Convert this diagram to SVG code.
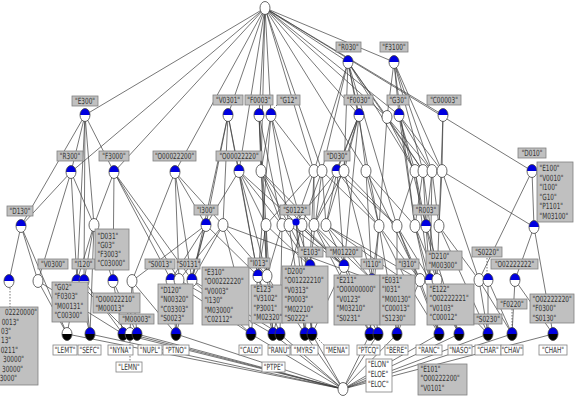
<svg xmlns="http://www.w3.org/2000/svg" width="582" height="402" viewBox="0 0 582 402">
<style>
.nf{fill:#fff;stroke:none}
.no{fill:none;stroke:#444;stroke-width:.8}
.lb{fill:#c0c0c0;stroke:#808080;stroke-width:.8}
.ob{fill:#fff;stroke:#808080;stroke-width:.8}
.t{font-family:"DejaVu Sans",sans-serif;font-size:8.5px;fill:#333}
.c{text-anchor:middle}
.r{text-anchor:end}
.e line{stroke:#3c3c3c;stroke-width:.7}
.d{stroke:#555;stroke-width:.8;stroke-dasharray:1.5,1.5}
</style>
<defs>
<g id="nw"><ellipse rx="5" ry="6.5" class="nf"/><ellipse rx="5" ry="6.5" class="no"/></g>
<g id="nb"><ellipse rx="5" ry="6.5" class="nf"/><path d="M-5,0A5,6.5 0 0 1 5,0Z" fill="#0000e0"/><ellipse rx="5" ry="6.5" class="no"/></g>
<g id="nbk"><path d="M-5,0A5,6.5 0 0 1 5,0Z" fill="#0000e0"/><path d="M-5,0A5,6.5 0 0 0 5,0Z" fill="#000"/><ellipse rx="5" ry="6.5" class="no"/></g>
<g id="nwk"><ellipse rx="5" ry="6.5" class="nf"/><path d="M-5,0A5,6.5 0 0 0 5,0Z" fill="#000"/><ellipse rx="5" ry="6.5" class="no"/></g>
<g id="ns"><circle r="3.6" fill="#0000e0"/></g>
</defs>
<rect width="582" height="402" fill="#fff"/>
<g id="connectors" class="e">
<line x1="265" y1="8" x2="348" y2="62"/><line x1="265" y1="8" x2="394" y2="62"/><line x1="265" y1="8" x2="85" y2="115"/><line x1="265" y1="8" x2="228" y2="115"/><line x1="265" y1="8" x2="259" y2="115"/><line x1="265" y1="8" x2="271" y2="115"/><line x1="265" y1="8" x2="359" y2="115"/><line x1="265" y1="8" x2="387" y2="117"/><line x1="265" y1="8" x2="399" y2="115"/><line x1="265" y1="8" x2="443" y2="115"/><line x1="265" y1="8" x2="71" y2="172"/><line x1="265" y1="8" x2="114" y2="172"/><line x1="265" y1="8" x2="175" y2="172"/><line x1="265" y1="8" x2="239" y2="171"/><line x1="265" y1="8" x2="261" y2="171"/><line x1="265" y1="8" x2="314" y2="171"/><line x1="265" y1="8" x2="322" y2="171"/><line x1="265" y1="8" x2="366" y2="171"/><line x1="265" y1="8" x2="532" y2="171"/>
<line x1="348" y1="62" x2="359" y2="115"/><line x1="348" y1="62" x2="387" y2="117"/><line x1="348" y1="62" x2="314" y2="171"/><line x1="348" y1="62" x2="322" y2="171"/><line x1="348" y1="62" x2="344" y2="171"/><line x1="348" y1="62" x2="415" y2="171"/><line x1="348" y1="62" x2="423" y2="171"/><line x1="348" y1="62" x2="379" y2="226"/><line x1="348" y1="62" x2="397" y2="226"/>
<line x1="394" y1="62" x2="387" y2="117"/><line x1="394" y1="62" x2="399" y2="115"/><line x1="394" y1="62" x2="423" y2="171"/><line x1="394" y1="62" x2="432" y2="171"/><line x1="394" y1="62" x2="442" y2="171"/><line x1="394" y1="62" x2="415" y2="226"/>
<line x1="85" y1="115" x2="71" y2="172"/><line x1="85" y1="115" x2="114" y2="172"/><line x1="85" y1="115" x2="21" y2="226"/><line x1="85" y1="115" x2="94" y2="225"/><line x1="85" y1="115" x2="84" y2="281"/><line x1="85" y1="115" x2="77" y2="281"/>
<line x1="228" y1="115" x2="239" y2="171"/><line x1="228" y1="115" x2="206" y2="225"/><line x1="228" y1="115" x2="223" y2="225"/><line x1="228" y1="115" x2="192" y2="280"/><line x1="228" y1="115" x2="258" y2="276"/>
<line x1="259" y1="115" x2="261" y2="171"/><line x1="259" y1="115" x2="266" y2="225"/><line x1="259" y1="115" x2="282" y2="225"/><line x1="259" y1="115" x2="267" y2="276"/>
<line x1="271" y1="115" x2="261" y2="171"/><line x1="271" y1="115" x2="314" y2="171"/><line x1="271" y1="115" x2="289" y2="225"/><line x1="271" y1="115" x2="302" y2="225"/><line x1="271" y1="115" x2="258" y2="276"/>
<line x1="359" y1="115" x2="337" y2="171"/><line x1="359" y1="115" x2="344" y2="171"/><line x1="359" y1="115" x2="366" y2="171"/><line x1="359" y1="115" x2="314" y2="225"/><line x1="359" y1="115" x2="326" y2="225"/><line x1="359" y1="115" x2="344" y2="266"/>
<line x1="387" y1="117" x2="415" y2="171"/><line x1="387" y1="117" x2="423" y2="171"/><line x1="387" y1="117" x2="432" y2="171"/><line x1="387" y1="117" x2="379" y2="226"/>
<line x1="399" y1="115" x2="415" y2="171"/><line x1="399" y1="115" x2="432" y2="171"/><line x1="399" y1="115" x2="442" y2="171"/><line x1="399" y1="115" x2="415" y2="226"/><line x1="399" y1="115" x2="426" y2="226"/>
<line x1="443" y1="115" x2="442" y2="171"/><line x1="443" y1="115" x2="439" y2="226"/>
<line x1="71" y1="172" x2="21" y2="226"/><line x1="71" y1="172" x2="38" y2="281"/><line x1="71" y1="172" x2="94" y2="225"/><line x1="71" y1="172" x2="77" y2="281"/>
<line x1="114" y1="172" x2="94" y2="225"/><line x1="114" y1="172" x2="113" y2="281"/><line x1="114" y1="172" x2="171" y2="280"/><line x1="114" y1="172" x2="179" y2="280"/><line x1="114" y1="172" x2="192" y2="280"/>
<line x1="175" y1="172" x2="132" y2="281"/><line x1="175" y1="172" x2="223" y2="225"/><line x1="175" y1="172" x2="206" y2="225"/><line x1="175" y1="172" x2="192" y2="280"/><line x1="175" y1="172" x2="179" y2="280"/>
<line x1="239" y1="171" x2="206" y2="225"/><line x1="239" y1="171" x2="266" y2="225"/><line x1="239" y1="171" x2="258" y2="276"/><line x1="239" y1="171" x2="267" y2="276"/><line x1="239" y1="171" x2="282" y2="225"/><line x1="239" y1="171" x2="344" y2="266"/>
<line x1="261" y1="171" x2="282" y2="225"/><line x1="261" y1="171" x2="289" y2="225"/><line x1="261" y1="171" x2="302" y2="225"/><line x1="261" y1="171" x2="267" y2="276"/><line x1="261" y1="171" x2="314" y2="225"/>
<line x1="314" y1="171" x2="266" y2="225"/><line x1="314" y1="171" x2="296" y2="222"/><line x1="314" y1="171" x2="314" y2="225"/><line x1="314" y1="171" x2="310" y2="266"/>
<line x1="322" y1="171" x2="302" y2="225"/><line x1="322" y1="171" x2="326" y2="225"/><line x1="322" y1="171" x2="310" y2="266"/><line x1="322" y1="171" x2="379" y2="226"/>
<line x1="337" y1="171" x2="326" y2="225"/><line x1="337" y1="171" x2="379" y2="226"/><line x1="337" y1="171" x2="344" y2="266"/><line x1="337" y1="171" x2="397" y2="226"/><line x1="337" y1="171" x2="296" y2="222"/>
<line x1="344" y1="171" x2="314" y2="225"/><line x1="344" y1="171" x2="397" y2="226"/><line x1="344" y1="171" x2="372" y2="280"/>
<line x1="366" y1="171" x2="379" y2="226"/><line x1="366" y1="171" x2="415" y2="226"/><line x1="366" y1="171" x2="372" y2="280"/><line x1="366" y1="171" x2="420" y2="280"/>
<line x1="415" y1="171" x2="397" y2="226"/><line x1="415" y1="171" x2="426" y2="226"/><line x1="415" y1="171" x2="430" y2="280"/>
<line x1="423" y1="171" x2="415" y2="226"/><line x1="423" y1="171" x2="426" y2="226"/><line x1="423" y1="171" x2="437" y2="280"/>
<line x1="432" y1="171" x2="426" y2="226"/><line x1="432" y1="171" x2="439" y2="226"/><line x1="432" y1="171" x2="430" y2="280"/>
<line x1="442" y1="171" x2="439" y2="226"/><line x1="442" y1="171" x2="534" y2="227"/><line x1="442" y1="171" x2="479" y2="280"/>
<line x1="532" y1="171" x2="534" y2="227"/><line x1="532" y1="171" x2="479" y2="280"/>
<line x1="21" y1="226" x2="9" y2="281"/><line x1="21" y1="226" x2="38" y2="281"/><line x1="21" y1="226" x2="67" y2="334"/>
<line x1="94" y1="225" x2="77" y2="281"/><line x1="94" y1="225" x2="84" y2="281"/><line x1="94" y1="225" x2="113" y2="281"/><line x1="94" y1="225" x2="90" y2="334"/>
<line x1="206" y1="225" x2="171" y2="280"/><line x1="206" y1="225" x2="192" y2="280"/><line x1="206" y1="225" x2="258" y2="276"/><line x1="206" y1="225" x2="132" y2="281"/><line x1="206" y1="225" x2="176" y2="334"/>
<line x1="223" y1="225" x2="179" y2="280"/><line x1="223" y1="225" x2="192" y2="280"/><line x1="223" y1="225" x2="267" y2="276"/><line x1="223" y1="225" x2="251" y2="334"/><line x1="223" y1="225" x2="372" y2="280"/>
<line x1="266" y1="225" x2="258" y2="276"/><line x1="266" y1="225" x2="267" y2="276"/><line x1="266" y1="225" x2="273" y2="334"/><line x1="266" y1="225" x2="310" y2="266"/>
<line x1="282" y1="225" x2="267" y2="276"/><line x1="282" y1="225" x2="310" y2="266"/><line x1="282" y1="225" x2="280" y2="334"/>
<line x1="289" y1="225" x2="310" y2="266"/><line x1="289" y1="225" x2="305" y2="334"/><line x1="289" y1="225" x2="344" y2="266"/>
<line x1="296" y1="222" x2="310" y2="266"/><line x1="296" y1="222" x2="344" y2="266"/><line x1="296" y1="222" x2="305" y2="334"/><line x1="296" y1="222" x2="312" y2="334"/>
<line x1="302" y1="225" x2="344" y2="266"/><line x1="302" y1="225" x2="312" y2="334"/><line x1="302" y1="225" x2="273" y2="334"/>
<line x1="314" y1="225" x2="344" y2="266"/><line x1="314" y1="225" x2="372" y2="280"/><line x1="314" y1="225" x2="370" y2="334"/>
<line x1="326" y1="225" x2="372" y2="280"/><line x1="326" y1="225" x2="378" y2="334"/><line x1="326" y1="225" x2="420" y2="280"/><line x1="326" y1="225" x2="407" y2="282"/>
<line x1="379" y1="226" x2="372" y2="280"/><line x1="379" y1="226" x2="420" y2="280"/><line x1="379" y1="226" x2="370" y2="334"/><line x1="379" y1="226" x2="397" y2="334"/><line x1="379" y1="226" x2="407" y2="282"/>
<line x1="397" y1="226" x2="420" y2="280"/><line x1="397" y1="226" x2="430" y2="280"/><line x1="397" y1="226" x2="397" y2="334"/><line x1="397" y1="226" x2="439" y2="334"/>
<line x1="415" y1="226" x2="430" y2="280"/><line x1="415" y1="226" x2="437" y2="280"/><line x1="415" y1="226" x2="439" y2="334"/>
<line x1="426" y1="226" x2="430" y2="280"/><line x1="426" y1="226" x2="437" y2="280"/><line x1="426" y1="226" x2="459" y2="334"/>
<line x1="439" y1="226" x2="437" y2="280"/><line x1="439" y1="226" x2="479" y2="280"/><line x1="439" y1="226" x2="488" y2="334"/>
<line x1="534" y1="227" x2="515" y2="280"/><line x1="534" y1="227" x2="553" y2="334"/>
<line x1="38" y1="281" x2="67" y2="334"/><line x1="38" y1="281" x2="123" y2="334"/>
<line x1="77" y1="281" x2="67" y2="334"/><line x1="77" y1="281" x2="90" y2="334"/><line x1="77" y1="281" x2="130" y2="334"/>
<line x1="84" y1="281" x2="90" y2="334"/><line x1="84" y1="281" x2="123" y2="334"/>
<line x1="113" y1="281" x2="123" y2="334"/><line x1="113" y1="281" x2="137" y2="334"/>
<line x1="132" y1="281" x2="130" y2="334"/><line x1="132" y1="281" x2="137" y2="334"/><line x1="132" y1="281" x2="176" y2="334"/>
<line x1="171" y1="280" x2="176" y2="334"/><line x1="171" y1="280" x2="251" y2="334"/>
<line x1="179" y1="280" x2="176" y2="334"/><line x1="179" y1="280" x2="273" y2="334"/>
<line x1="192" y1="280" x2="251" y2="334"/><line x1="192" y1="280" x2="280" y2="334"/>
<line x1="258" y1="276" x2="251" y2="334"/><line x1="258" y1="276" x2="273" y2="334"/><line x1="258" y1="276" x2="280" y2="334"/>
<line x1="267" y1="276" x2="273" y2="334"/><line x1="267" y1="276" x2="305" y2="334"/>
<line x1="310" y1="266" x2="305" y2="334"/><line x1="310" y1="266" x2="312" y2="334"/>
<line x1="344" y1="266" x2="312" y2="334"/><line x1="344" y1="266" x2="370" y2="334"/>
<line x1="372" y1="280" x2="370" y2="334"/><line x1="372" y1="280" x2="378" y2="334"/>
<line x1="407" y1="282" x2="397" y2="334"/><line x1="407" y1="282" x2="439" y2="334"/>
<line x1="420" y1="280" x2="397" y2="334"/><line x1="420" y1="280" x2="439" y2="334"/>
<line x1="430" y1="280" x2="439" y2="334"/><line x1="430" y1="280" x2="459" y2="334"/>
<line x1="437" y1="280" x2="459" y2="334"/><line x1="437" y1="280" x2="488" y2="334"/>
<line x1="479" y1="280" x2="488" y2="334"/><line x1="479" y1="280" x2="512" y2="334"/>
<line x1="488" y1="280" x2="488" y2="334"/><line x1="488" y1="280" x2="512" y2="334"/>
<line x1="515" y1="280" x2="512" y2="334"/><line x1="515" y1="280" x2="553" y2="334"/>
<line x1="67" y1="334" x2="343" y2="389"/><line x1="90" y1="334" x2="343" y2="389"/><line x1="123" y1="334" x2="343" y2="389"/><line x1="130" y1="334" x2="343" y2="389"/><line x1="137" y1="334" x2="343" y2="389"/><line x1="176" y1="334" x2="343" y2="389"/><line x1="251" y1="334" x2="343" y2="389"/><line x1="273" y1="334" x2="343" y2="389"/><line x1="280" y1="334" x2="343" y2="389"/><line x1="305" y1="334" x2="343" y2="389"/><line x1="312" y1="334" x2="343" y2="389"/><line x1="370" y1="334" x2="343" y2="389"/><line x1="378" y1="334" x2="343" y2="389"/><line x1="397" y1="334" x2="343" y2="389"/><line x1="439" y1="334" x2="343" y2="389"/><line x1="459" y1="334" x2="343" y2="389"/><line x1="488" y1="334" x2="343" y2="389"/><line x1="512" y1="334" x2="343" y2="389"/><line x1="553" y1="334" x2="343" y2="389"/>
<line class="d" x1="10" y1="288" x2="10" y2="307"/><line class="d" x1="487" y1="258" x2="487" y2="274"/><line class="d" x1="512" y1="309" x2="512" y2="328"/><line class="d" x1="130" y1="341" x2="130" y2="362"/><line class="d" x1="317" y1="338" x2="324" y2="345"/><line class="d" x1="277" y1="105" x2="273" y2="109"/>
</g>
<g id="n-top"><use href="#nw" x="265" y="8"/></g>
<g id="n-R030"><use href="#nb" x="348" y="62"/><rect class="lb" x="336" y="42" width="25" height="10"/><text class="t c" transform="scale(.68,1)" x="512.5" y="49.8">"R030"</text></g>
<g id="n-F3100"><use href="#nb" x="394" y="62"/><rect class="lb" x="380" y="42" width="28" height="10"/><text class="t c" transform="scale(.68,1)" x="579.4" y="49.8">"F3100"</text></g>
<g id="n-E300"><use href="#nb" x="85" y="115"/><rect class="lb" x="72" y="96" width="26" height="10"/><text class="t c" transform="scale(.68,1)" x="125" y="103.8">"E300"</text></g>
<g id="n-V0301"><use href="#nb" x="228" y="115"/><rect class="lb" x="213" y="95" width="30" height="10"/><text class="t c" transform="scale(.68,1)" x="335.3" y="102.8">"V0301"</text></g>
<g id="n-F0003"><use href="#nb" x="259" y="115"/><rect class="lb" x="245" y="95" width="28" height="10"/><text class="t c" transform="scale(.68,1)" x="380.9" y="102.8">"F0003"</text></g>
<g id="n-G12"><use href="#nb" x="271" y="115"/><rect class="lb" x="277" y="95" width="23" height="10"/><text class="t c" transform="scale(.68,1)" x="424.3" y="102.8">"G12"</text></g>
<g id="n-F0030"><use href="#nb" x="359" y="115"/><rect class="lb" x="344" y="95" width="29" height="10"/><text class="t c" transform="scale(.68,1)" x="527.2" y="102.8">"F0030"</text></g>
<g id="n-b6"><use href="#nw" x="387" y="117"/></g>
<g id="n-G30"><use href="#nb" x="399" y="115"/><rect class="lb" x="387" y="95" width="22" height="10"/><text class="t c" transform="scale(.68,1)" x="585.3" y="102.8">"G30"</text></g>
<g id="n-C00003"><use href="#nb" x="443" y="115"/><rect class="lb" x="427" y="95" width="34" height="10"/><text class="t c" transform="scale(.68,1)" x="652.9" y="102.8">"C00003"</text></g>
<g id="n-R300"><use href="#nb" x="71" y="172"/><rect class="lb" x="57" y="151" width="26" height="10"/><text class="t c" transform="scale(.68,1)" x="102.9" y="158.8">"R300"</text></g>
<g id="n-F3000"><use href="#nb" x="114" y="172"/><rect class="lb" x="99" y="151" width="30" height="10"/><text class="t c" transform="scale(.68,1)" x="167.6" y="158.8">"F3000"</text></g>
<g id="n-O00022200"><use href="#nb" x="175" y="172"/><rect class="lb" x="153" y="151" width="43" height="10"/><text class="t c" transform="scale(.68,1)" x="256.6" y="158.8">"O00022200"</text></g>
<g id="n-O00022220"><use href="#nb" x="239" y="171"/><rect class="lb" x="216" y="151" width="46" height="10"/><text class="t c" transform="scale(.68,1)" x="351.5" y="158.8">"O00022220"</text></g>
<g id="n-c5"><use href="#nw" x="261" y="171"/></g>
<g id="n-c6"><use href="#nw" x="314" y="171"/></g>
<g id="n-c7"><use href="#nw" x="322" y="171"/></g>
<g id="n-D030"><use href="#nb" x="337" y="171"/><rect class="lb" x="324" y="151" width="26" height="10"/><text class="t c" transform="scale(.68,1)" x="495.6" y="158.8">"D030"</text></g>
<g id="n-c9"><use href="#nw" x="344" y="171"/></g>
<g id="n-c10"><use href="#nw" x="366" y="171"/></g>
<g id="n-c11"><use href="#nw" x="415" y="171"/></g>
<g id="n-c12"><use href="#nw" x="423" y="171"/></g>
<g id="n-c13"><use href="#nw" x="432" y="171"/></g>
<g id="n-c14"><use href="#nw" x="442" y="171"/></g>
<g id="n-D010"><use href="#nb" x="532" y="171"/><rect class="lb" x="518" y="148" width="28" height="10"/><text class="t c" transform="scale(.68,1)" x="782.4" y="155.8">"D010"</text></g>
<g id="n-D130"><use href="#nb" x="21" y="226"/><rect class="lb" x="7" y="206" width="26" height="10"/><text class="t c" transform="scale(.68,1)" x="29.4" y="213.8">"D130"</text></g>
<g id="n-d2"><use href="#nw" x="94" y="225"/></g>
<g id="n-I300"><use href="#nb" x="206" y="225"/><rect class="lb" x="194" y="205" width="24" height="10"/><text class="t c" transform="scale(.68,1)" x="302.9" y="212.8">"I300"</text></g>
<g id="n-d4"><use href="#nw" x="223" y="225"/></g>
<g id="n-d5"><use href="#nw" x="266" y="225"/></g>
<g id="n-d6"><use href="#nw" x="282" y="225"/></g>
<g id="n-d7"><use href="#nw" x="289" y="225"/></g>
<g id="n-d9"><use href="#nw" x="302" y="225"/></g>
<g id="n-S0122"><use href="#ns" x="296" y="222"/><rect class="lb" x="280" y="205" width="30" height="10"/><text class="t c" transform="scale(.68,1)" x="433.8" y="212.8">"S0122"</text></g>
<g id="n-d10"><use href="#nw" x="314" y="225"/></g>
<g id="n-d11"><use href="#nw" x="326" y="225"/></g>
<g id="n-d12"><use href="#nw" x="379" y="226"/></g>
<g id="n-d13"><use href="#nw" x="397" y="226"/></g>
<g id="n-d14"><use href="#nw" x="415" y="226"/></g>
<g id="n-R003"><use href="#nb" x="426" y="226"/><rect class="lb" x="413" y="205" width="26" height="10"/><text class="t c" transform="scale(.68,1)" x="626.5" y="212.8">"R003"</text></g>
<g id="n-d16"><use href="#nw" x="439" y="226"/></g>
<g id="n-E100"><use href="#nb" x="534" y="227"/><rect class="lb" x="537" y="162" width="36" height="60"/><text class="t" transform="scale(.68,1)" x="793.4" y="171"><tspan>"E100"</tspan><tspan x="793.4" dy="9.6">"V0010"</tspan><tspan x="793.4" dy="9.6">"I100"</tspan><tspan x="793.4" dy="9.6">"G10"</tspan><tspan x="793.4" dy="9.6">"P1101"</tspan><tspan x="793.4" dy="9.6">"M03100"</tspan></text></g>
<g id="n-e2"><use href="#nw" x="38" y="281"/></g>
<g id="n-V0300"><use href="#nb" x="77" y="281"/><rect class="lb" x="38" y="259" width="30" height="10"/><text class="t c" transform="scale(.68,1)" x="77.9" y="266.8">"V0300"</text></g>
<g id="n-I120"><use href="#nb" x="84" y="281"/><rect class="lb" x="72" y="259" width="23" height="10"/><text class="t c" transform="scale(.68,1)" x="122.8" y="266.8">"I120"</text></g>
<g id="n-D031"><use href="#nb" x="113" y="281"/><rect class="lb" x="95" y="229" width="34" height="41"/><text class="t" transform="scale(.68,1)" x="143.4" y="239"><tspan>"D031"</tspan><tspan x="143.4" dy="9">"G03"</tspan><tspan x="143.4" dy="9">"F3003"</tspan><tspan x="143.4" dy="9">"C03000"</tspan></text></g>
<g id="n-e6"><use href="#nw" x="132" y="281"/></g>
<g id="n-S0013"><use href="#nb" x="171" y="280"/><rect class="lb" x="145" y="259" width="30" height="10"/><text class="t c" transform="scale(.68,1)" x="235.3" y="266.8">"S0013"</text></g>
<g id="n-e8"><use href="#nw" x="179" y="280"/></g>
<g id="n-S0131"><use href="#nb" x="192" y="280"/><rect class="lb" x="177" y="259" width="23" height="10"/><text class="t c" transform="scale(.68,1)" x="277.2" y="266.8">"S0131"</text></g>
<g id="n-I013"><use href="#nb" x="258" y="276"/><rect class="lb" x="248" y="258" width="22" height="10"/><text class="t c" transform="scale(.68,1)" x="380.9" y="265.8">"I013"</text></g>
<g id="n-e11"><use href="#nw" x="267" y="276"/></g>
<g id="n-E103"><use href="#nb" x="310" y="266"/><rect class="lb" x="298" y="247" width="25" height="10"/><text class="t c" transform="scale(.68,1)" x="456.6" y="254.8">"E103"</text></g>
<g id="n-M01220"><use href="#nb" x="344" y="266"/><rect class="lb" x="326" y="247" width="36" height="10"/><text class="t c" transform="scale(.68,1)" x="505.9" y="254.8">"M01220"</text></g>
<g id="n-I110"><use href="#nb" x="372" y="280"/><rect class="lb" x="361" y="259" width="22" height="10"/><text class="t c" transform="scale(.68,1)" x="547.1" y="266.8">"I110"</text></g>
<g id="n-I310"><use href="#nb" x="407" y="282"/><rect class="lb" x="396" y="259" width="23" height="10"/><text class="t c" transform="scale(.68,1)" x="599.3" y="266.8">"I310"</text></g>
<g id="n-e15"><use href="#nw" x="420" y="280"/></g>
<g id="n-D210"><use href="#nb" x="430" y="280"/><rect class="lb" x="426" y="251" width="36" height="19"/><text class="t" transform="scale(.68,1)" x="630.1" y="259"><tspan>"D210"</tspan><tspan x="630.1" dy="9">"M00300"</tspan></text></g>
<g id="n-e17"><use href="#nw" x="437" y="280"/></g>
<g id="n-e18"><use href="#nw" x="479" y="280"/></g>
<g id="n-S0220"><use href="#nb" x="488" y="280"/><rect class="lb" x="472" y="247" width="30" height="10"/><text class="t c" transform="scale(.68,1)" x="716.2" y="254.8">"S0220"</text></g>
<g id="n-O02222222"><use href="#nb" x="515" y="280"/><rect class="lb" x="491" y="259" width="47" height="10"/><text class="t c" transform="scale(.68,1)" x="756.6" y="266.8">"O02222222"</text></g>
<g id="n-left"><use href="#nb" x="9" y="281"/><rect class="lb" x="-20" y="307" width="58" height="78"/><text class="t r" transform="scale(.68,1)" x="54.4" y="315">02220000"</text><text class="t r" transform="scale(.68,1)" x="27.9" y="325">0013"</text><text class="t r" transform="scale(.68,1)" x="16.2" y="334">03"</text><text class="t r" transform="scale(.68,1)" x="16.2" y="343.5">13"</text><text class="t r" transform="scale(.68,1)" x="26.5" y="353">0211"</text><text class="t r" transform="scale(.68,1)" x="35.3" y="362.5">30000"</text><text class="t r" transform="scale(.68,1)" x="33.8" y="372">30000"</text><text class="t r" transform="scale(.68,1)" x="25" y="381.5">3000"</text></g>
<g id="n-LEMT"><use href="#nwk" x="67" y="334"/><rect class="ob" x="53" y="345" width="24" height="10"/><text class="t c" transform="scale(.68,1)" x="95.6" y="352.8">"LEMT"</text></g>
<g id="n-SEFC"><use href="#nbk" x="90" y="334"/><rect class="lb" x="52" y="282" width="36" height="40"/><text class="t" transform="scale(.68,1)" x="80.1" y="290"><tspan>"G02"</tspan><tspan x="80.1" dy="9.5">"F0303"</tspan><tspan x="80.1" dy="9.5">"M00131"</tspan><tspan x="80.1" dy="9.5">"C00300"</tspan></text><rect class="ob" x="78" y="345" width="23" height="10"/><text class="t c" transform="scale(.68,1)" x="131.6" y="352.8">"SEFC"</text></g>
<g id="n-NYNA"><use href="#nbk" x="123" y="334"/><rect class="lb" x="93" y="293" width="47" height="20"/><text class="t" transform="scale(.68,1)" x="140.4" y="302"><tspan>"O00022210"</tspan><tspan x="140.4" dy="9">"M00013"</tspan></text><rect class="ob" x="108" y="345" width="25" height="10"/><text class="t c" transform="scale(.68,1)" x="177.2" y="352.8">"NYNA"</text></g>
<g id="n-LEMN"><use href="#nwk" x="130" y="334"/><rect class="ob" x="116" y="362" width="26" height="10"/><text class="t c" transform="scale(.68,1)" x="189.7" y="369.8">"LEMN"</text></g>
<g id="n-NUPL"><use href="#nbk" x="137" y="334"/><rect class="lb" x="119" y="314" width="35" height="10"/><text class="t c" transform="scale(.68,1)" x="200.7" y="321.8">"M00003"</text><rect class="ob" x="138" y="345" width="24" height="10"/><text class="t c" transform="scale(.68,1)" x="220.6" y="352.8">"NUPL"</text></g>
<g id="n-PTNO"><use href="#nbk" x="176" y="334"/><rect class="lb" x="158" y="284" width="35" height="40"/><text class="t" transform="scale(.68,1)" x="236" y="293"><tspan>"D120"</tspan><tspan x="236" dy="9.5">"N00320"</tspan><tspan x="236" dy="9.5">"C03303"</tspan><tspan x="236" dy="9.5">"S0023"</tspan></text><rect class="ob" x="163" y="345" width="26" height="10"/><text class="t c" transform="scale(.68,1)" x="258.8" y="352.8">"PTNO"</text></g>
<g id="n-CALO"><use href="#nbk" x="251" y="334"/><rect class="lb" x="202" y="267" width="47" height="58"/><text class="t" transform="scale(.68,1)" x="300.7" y="275"><tspan>"E310"</tspan><tspan x="300.7" dy="9.5">"O00222220"</tspan><tspan x="300.7" dy="9.5">"V0003"</tspan><tspan x="300.7" dy="9.5">"I130"</tspan><tspan x="300.7" dy="9.5">"M03000"</tspan><tspan x="300.7" dy="9.5">"C02112"</tspan></text><rect class="ob" x="239" y="345" width="23" height="10"/><text class="t c" transform="scale(.68,1)" x="368.4" y="352.8">"CALO"</text></g>
<g id="n-RANU"><use href="#nbk" x="273" y="334"/><rect class="lb" x="251" y="285" width="32" height="38"/><text class="t" transform="scale(.68,1)" x="372.8" y="292"><tspan>"E123"</tspan><tspan x="372.8" dy="9.5">"V3102"</tspan><tspan x="372.8" dy="9.5">"P3001"</tspan><tspan x="372.8" dy="9.5">"M02320"</tspan></text><rect class="ob" x="268" y="345" width="22" height="10"/><text class="t c" transform="scale(.68,1)" x="410.3" y="352.8">"RANU"</text></g>
<g id="n-PTPE"><use href="#nbk" x="280" y="334"/><rect class="ob" x="262" y="362" width="23" height="10"/><text class="t c" transform="scale(.68,1)" x="402.2" y="369.8">"PTPE"</text></g>
<g id="n-MYRS"><use href="#nbk" x="305" y="334"/><rect class="lb" x="282" y="266" width="46" height="57"/><text class="t" transform="scale(.68,1)" x="418.4" y="274"><tspan>"D200"</tspan><tspan x="418.4" dy="9.5">"O01222210"</tspan><tspan x="418.4" dy="9.5">"V0313"</tspan><tspan x="418.4" dy="9.5">"P0003"</tspan><tspan x="418.4" dy="9.5">"M02210"</tspan><tspan x="418.4" dy="9.5">"S0222"</tspan></text><rect class="ob" x="291" y="345" width="27" height="10"/><text class="t c" transform="scale(.68,1)" x="447.8" y="352.8">"MYRS"</text></g>
<g id="n-MENA"><use href="#nbk" x="312" y="334"/><rect class="ob" x="324" y="345" width="25" height="10"/><text class="t c" transform="scale(.68,1)" x="494.9" y="352.8">"MENA"</text></g>
<g id="n-PTCQ"><use href="#nbk" x="370" y="334"/><rect class="lb" x="334" y="275" width="46" height="50"/><text class="t" transform="scale(.68,1)" x="494.9" y="283"><tspan>"E211"</tspan><tspan x="494.9" dy="9.5">"O00000000"</tspan><tspan x="494.9" dy="9.5">"V0123"</tspan><tspan x="494.9" dy="9.5">"M03210"</tspan><tspan x="494.9" dy="9.5">"S0231"</tspan></text><rect class="ob" x="357" y="345" width="23" height="10"/><text class="t c" transform="scale(.68,1)" x="541.9" y="352.8">"PTCQ"</text></g>
<g id="n-f13"><use href="#nbk" x="378" y="334"/></g>
<g id="n-BERE"><use href="#nbk" x="397" y="334"/><rect class="lb" x="380" y="275" width="35" height="50"/><text class="t" transform="scale(.68,1)" x="561.8" y="283"><tspan>"E031"</tspan><tspan x="561.8" dy="9.5">"I031"</tspan><tspan x="561.8" dy="9.5">"M00130"</tspan><tspan x="561.8" dy="9.5">"C00013"</tspan><tspan x="561.8" dy="9.5">"S1230"</tspan></text><rect class="ob" x="385" y="345" width="23" height="10"/><text class="t c" transform="scale(.68,1)" x="583.1" y="352.8">"BERE"</text></g>
<g id="n-RANC"><use href="#nbk" x="439" y="334"/><rect class="lb" x="427" y="284" width="47" height="41"/><text class="t" transform="scale(.68,1)" x="631.6" y="292"><tspan>"E122"</tspan><tspan x="631.6" dy="9.5">"O02222221"</tspan><tspan x="631.6" dy="9.5">"V0103"</tspan><tspan x="631.6" dy="9.5">"C00012"</tspan></text><rect class="ob" x="416" y="345" width="26" height="10"/><text class="t c" transform="scale(.68,1)" x="630.9" y="352.8">"RANC"</text></g>
<g id="n-NASO"><use href="#nbk" x="459" y="334"/><rect class="ob" x="448" y="345" width="24" height="10"/><text class="t c" transform="scale(.68,1)" x="676.5" y="352.8">"NASO"</text></g>
<g id="n-CHAR"><use href="#nbk" x="488" y="334"/><rect class="lb" x="474" y="314" width="28" height="10"/><text class="t c" transform="scale(.68,1)" x="717.6" y="321.8">"S0230"</text><rect class="ob" x="475" y="345" width="26" height="10"/><text class="t c" transform="scale(.68,1)" x="717.6" y="352.8">"CHAR"</text></g>
<g id="n-CHAV"><use href="#nbk" x="512" y="334"/><rect class="lb" x="497" y="299" width="30" height="10"/><text class="t c" transform="scale(.68,1)" x="752.9" y="306.8">"F0220"</text><rect class="ob" x="501" y="345" width="22" height="10"/><text class="t c" transform="scale(.68,1)" x="752.9" y="352.8">"CHAV"</text></g>
<g id="n-CHAH"><use href="#nbk" x="553" y="334"/><rect class="lb" x="530" y="294" width="44" height="29"/><text class="t" transform="scale(.68,1)" x="783.1" y="302"><tspan>"O02222220"</tspan><tspan x="783.1" dy="9.5">"F0300"</tspan><tspan x="783.1" dy="9.5">"S0130"</tspan></text><rect class="ob" x="539" y="345" width="28" height="10"/><text class="t c" transform="scale(.68,1)" x="813.2" y="352.8">"CHAH"</text></g>
<g id="n-bottom"><use href="#nw" x="343" y="389"/><rect class="ob" x="366" y="359" width="26" height="33"/><text class="t" transform="scale(.68,1)" x="541.2" y="367.5"><tspan>"ELON"</tspan><tspan x="541.2" dy="10">"ELOE"</tspan><tspan x="541.2" dy="10">"ELOC"</tspan></text><rect class="lb" x="418" y="364" width="49" height="31"/><text class="t" transform="scale(.68,1)" x="618.4" y="372"><tspan>"E101"</tspan><tspan x="618.4" dy="9.5">"O00222200"</tspan><tspan x="618.4" dy="9.5">"V0101"</tspan></text></g>
</svg>
